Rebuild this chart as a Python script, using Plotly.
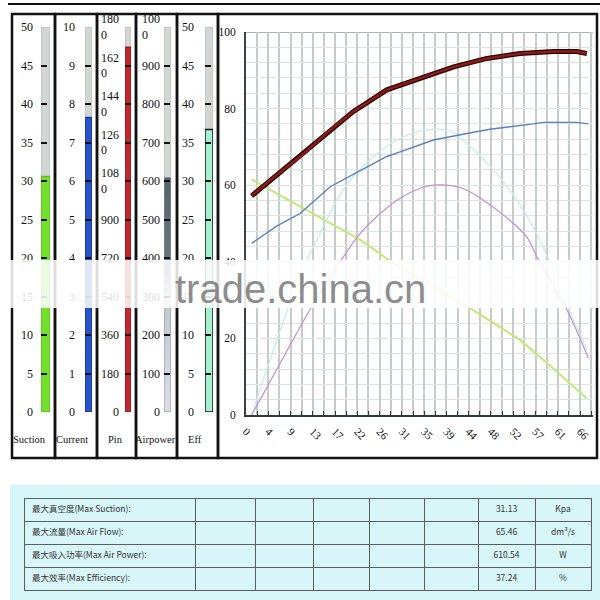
import plotly.graph_objects as go

# --- main performance curves (values already scaled to the 0-100 chart) ---
MAX_FLOW = 65.46
FLOW_TICK_LABELS = ["0", "4", "9", "13", "17", "22", "26", "31", "35", "39",
                    "44", "48", "52", "57", "61", "66"]

pin_x = [1.1, 5.4, 10.6, 16.5, 21.0, 27.6, 34.1, 40.7, 47.2, 53.7, 60.3, 64.8, 66.8]
pin_y = [57.2, 62.0, 67.4, 74.4, 79.2, 84.9, 87.9, 90.9, 93.1, 94.4, 94.9, 94.9, 94.4]

current_x = [1.1, 6.0, 10.6, 16.5, 22.4, 27.6, 30.2, 36.7, 43.3, 47.8, 56.3, 58.3, 64.8, 67.1]
current_y = [44.8, 49.3, 52.6, 59.6, 63.8, 67.5, 68.7, 71.8, 73.5, 74.6, 76.0, 76.4, 76.4, 76.0]

suction_x = [1.1, 10.6, 16.5, 22.4, 28.9, 36.0, 43.9, 53.7, 60.0, 66.8]
suction_y = [61.5, 54.4, 50.0, 45.7, 39.6, 34.0, 27.9, 19.6, 12.4, 4.3]

eff_x = [1.1, 4.7, 8.3, 11.6, 14.5, 17.8, 21.0, 25.0, 29.5, 34.1, 37.0, 40.0,
         43.3, 48.5, 53.1, 57.6, 59.3, 62.5, 66.8]
eff_y = [0.0, 14.4, 28.0, 39.6, 47.4, 56.1, 62.2, 67.4, 71.8, 74.2, 74.6, 74.2,
         70.9, 64.0, 56.1, 45.7, 40.5, 30.0, 17.0]

airpower_x = [1.1, 6.7, 12.5, 17.8, 22.4, 26.3, 30.2, 34.1, 36.7, 42.0, 46.5,
              51.1, 55.0, 57.3, 62.9, 67.1]
airpower_y = [0.0, 13.5, 27.4, 38.7, 47.4, 52.6, 56.6, 59.2, 60.0, 59.4, 56.1,
              51.5, 46.5, 40.5, 27.4, 14.8]

# --- gauges ---
GAUGE_NAMES = ["Suction", "Current", "Pin", "Airpower", "Eff"]
GAUGE_MAX = [50, 10, 1800, 1000, 50]
GAUGE_STEP = [5, 1, 180, 100, 5]
GAUGE_VALUES = [30.6, 7.65, 1705, 609, 36.7]
# invisible padding keeps the wrapped "0" under the first digit
PAD = "<span style='color:rgba(0,0,0,0)'>00</span>"
GAUGE_TICK_LABELS = [
    ["0", "5", "10", "15", "20", "25", "30", "35", "40", "45", "50"],
    ["0", "1", "2", "3", "4", "5", "6", "7", "8", "9", "10"],
    ["0", "180", "360", "540", "720", "900", "108<br>0" + PAD, "126<br>0" + PAD,
     "144<br>0" + PAD, "162<br>0" + PAD, "180<br>0" + PAD],
    ["0", "100", "200", "300", "400", "500", "600", "700", "800", "900",
     "100<br>0" + PAD],
    ["0", "5", "10", "15", "20", "25", "30", "35", "40", "45", "50"],
]

# --- summary table ---
TABLE_LABELS = ["最大真空度(Max Suction):", "最大流量(Max Air Flow):",
                "最大吸入功率(Max Air Power):", "最大效率(Max Efficiency):"]
TABLE_VALUES = ["31.13", "65.46", "610.54", "37.24"]
TABLE_UNITS = ["Kpa", "dm³/s", "W", "%"]

W, H = 600, 600
SERIF = "Liberation Serif"


def fx(p):
    return p / W


def fy(p):
    return 1 - p / H


fig = go.Figure()

# main chart traces
fig.add_trace(go.Scatter(x=suction_x, y=suction_y, mode="lines",
                         line=dict(color="#c4e878", width=2), hoverinfo="skip"))
fig.add_trace(go.Scatter(x=eff_x, y=eff_y, mode="lines", line_shape="spline",
                         line=dict(color="#c6eee8", width=1.3), hoverinfo="skip"))
fig.add_trace(go.Scatter(x=airpower_x, y=airpower_y, mode="lines", line_shape="spline",
                         line=dict(color="#c48cd4", width=1.2), hoverinfo="skip"))
fig.add_trace(go.Scatter(x=current_x, y=current_y, mode="lines",
                         line=dict(color="#5b7fc2", width=1.4), hoverinfo="skip"))
fig.add_trace(go.Scatter(x=pin_x, y=pin_y, mode="lines",
                         line=dict(color="#2a0505", width=5), hoverinfo="skip"))
fig.add_trace(go.Scatter(x=pin_x, y=pin_y, mode="lines",
                         line=dict(color="#8e1a1a", width=2.5), hoverinfo="skip"))

# gauge layout: tube left/right px, label standoff, fill colour
tube_px = [(41, 50), (85, 92), (125, 131), (164, 171), (205, 213)]
standoff = [7, 9, 5, 3, 10]
fill_col = ["#72e02c", "#2753c8", "#c02830", None, "#a6f0cf"]
fill_line = ["#5cc020", "#1a3a98", "#a01820", None, "#151515"]

for i in range(5):
    n = i + 2
    xa, ya = "x%d" % n, "y%d" % n
    fig.add_trace(go.Bar(x=[0], y=[GAUGE_MAX[i]], width=1, xaxis=xa, yaxis=ya,
                         marker=dict(color="#d2d7d4", line=dict(color="#b4bbb7", width=1)),
                         hoverinfo="skip"))
    v = GAUGE_VALUES[i]
    if fill_col[i] is None:
        # air power bar is shaded from light (bottom) to slate (top)
        fig.add_trace(go.Scatter(x=[-0.5, 0.5, 0.5, -0.5, -0.5], y=[0, 0, v, v, 0],
                                 xaxis=xa, yaxis=ya, mode="lines", fill="toself",
                                 line=dict(color="#8a929a", width=1),
                                 fillgradient=dict(type="vertical", start=0, stop=v,
                                                   colorscale=[[0, "#dcdcea"], [0.45, "#c4c8d0"],
                                                               [0.62, "#6c7880"], [1, "#56626a"]]),
                                 hoverinfo="skip"))
    else:
        fig.add_trace(go.Bar(x=[0], y=[v], width=1, xaxis=xa, yaxis=ya,
                             marker=dict(color=fill_col[i],
                                         line=dict(color=fill_line[i], width=1.5)),
                             hoverinfo="skip"))
    fig.layout["xaxis%d" % n] = dict(domain=[fx(tube_px[i][0]), fx(tube_px[i][1])],
                                     range=[-0.5, 0.5], visible=False, fixedrange=True,
                                     automargin=False)
    fig.layout["yaxis%d" % n] = dict(
        domain=[fy(412), fy(27)], range=[0, GAUGE_MAX[i]], anchor=xa, automargin=False,
        tickvals=[k * GAUGE_STEP[i] for k in range(11)], ticktext=GAUGE_TICK_LABELS[i],
        ticks="inside", ticklen=6, tickwidth=2, tickcolor="#111111",
        showgrid=False, zeroline=False, showline=False,
        ticklabelstandoff=standoff[i],
        tickfont=dict(family=SERIF, size=12, color="#111111"))

label_cx = [29, 72, 115, 155, 195]
annotations = []
for i, name in enumerate(GAUGE_NAMES):
    annotations.append(dict(x=fx(label_cx[i]), y=fy(439), xref="paper", yref="paper",
                            xanchor="center", yanchor="middle",
                            text=name, showarrow=False,
                            font=dict(family=SERIF, size=10.5, color="#111111")))

# watermark
annotations.append(dict(x=fx(300), y=fy(289), xref="paper", yref="paper",
                        xanchor="center", yanchor="middle",
                        text="trade.china.cn", showarrow=False,
                        font=dict(family="Liberation Sans", size=40, color="rgba(120,120,120,0.85)")))

shapes = []
# top rule
shapes.append(dict(type="line", xref="paper", yref="paper", x0=fx(8), x1=fx(600),
                   y0=fy(4), y1=fy(4), line=dict(color="#111111", width=2)))
# panel boxes
for a, b in [(12, 55), (55, 97), (97, 136), (136, 177), (177, 218), (218, 597)]:
    shapes.append(dict(type="rect", xref="paper", yref="paper", x0=fx(a), x1=fx(b),
                       y0=fy(458), y1=fy(14), line=dict(color="#111111", width=2.5),
                       layer="above"))
# plot top edge
shapes.append(dict(type="line", xref="x domain", yref="y", x0=0, x1=1, y0=100, y1=100,
                   line=dict(color="#a6b5ad", width=2), layer="below"))
# table background
shapes.append(dict(type="rect", xref="paper", yref="paper", x0=fx(10), x1=fx(600),
                   y0=fy(600), y1=fy(485), fillcolor="#d6f5f7", line=dict(width=0),
                   layer="below"))
# watermark band
shapes.append(dict(type="rect", xref="paper", yref="paper", x0=0, x1=1,
                   y0=fy(308), y1=fy(260), fillcolor="rgba(255,255,255,0.86)",
                   line=dict(width=0), layer="above"))

# summary table (first row as header so all rows look alike)
blank = ["", "", "", "", ""]
header_vals = [TABLE_LABELS[0]] + blank + [TABLE_VALUES[0], TABLE_UNITS[0]]
cell_cols = [TABLE_LABELS[1:]] + [["", "", ""]] * 5 + [TABLE_VALUES[1:], TABLE_UNITS[1:]]
aligns = ["left", "center", "center", "center", "center", "center", "center", "center"]
tfont = dict(family="Noto Sans CJK SC", size=8.5, color="#333333")
fig.add_trace(go.Table(
    domain=dict(x=[fx(24), fx(591)], y=[fy(592), fy(498)]),
    columnwidth=[171, 60, 58, 56, 55, 54, 57, 56],
    header=dict(values=header_vals, height=23, align=aligns, fill_color="#d8f6f8",
                line=dict(color="#56605e", width=1), font=tfont),
    cells=dict(values=cell_cols, height=23, align=aligns, fill_color="#d8f6f8",
               line=dict(color="#56605e", width=1), font=tfont),
))

fig.update_layout(
    width=W, height=H, margin=dict(l=0, r=0, t=0, b=0, autoexpand=False),
    paper_bgcolor="white", plot_bgcolor="white",
    showlegend=False, barmode="overlay",
    xaxis=dict(domain=[fx(246), fx(593)], range=[0, 68], automargin=False,
               tickvals=[k * MAX_FLOW / 15 for k in range(16)], ticktext=FLOW_TICK_LABELS,
               tickangle=45, ticks="inside", ticklen=4, tickcolor="#2f3b35",
               showgrid=True, gridcolor="#c6ccca", gridwidth=2,
               minor=dict(tick0=0, dtick=MAX_FLOW / 30, ticks="inside", ticklen=4,
                          tickcolor="#2f3b35", showgrid=True, gridcolor="#c6ccca", gridwidth=2),
               showline=True, linecolor="#2f3b35", linewidth=2, zeroline=False,
               ticklabelstandoff=4,
               tickfont=dict(family=SERIF, size=11, color="#111111")),
    yaxis=dict(domain=[fy(415), fy(32)], range=[0, 100], automargin=False,
               tickvals=[0, 20, 40, 60, 80, 100], ticks="",
               showgrid=True, gridcolor="#dbe6e0", gridwidth=1,
               minor=dict(dtick=4, showgrid=True, gridcolor="#dbe6e0", gridwidth=1),
               showline=True, linecolor="#3a4440", linewidth=2, zeroline=False,
               ticklabelstandoff=6,
               tickfont=dict(family=SERIF, size=11.5, color="#111111")),
    shapes=shapes, annotations=annotations,
)

# drop the browser's default body margin so the 600x600 figure fills the window
fig.write_html("out.html", config={"displayModeBar": False},
               post_script="document.body.style.margin='0';")
